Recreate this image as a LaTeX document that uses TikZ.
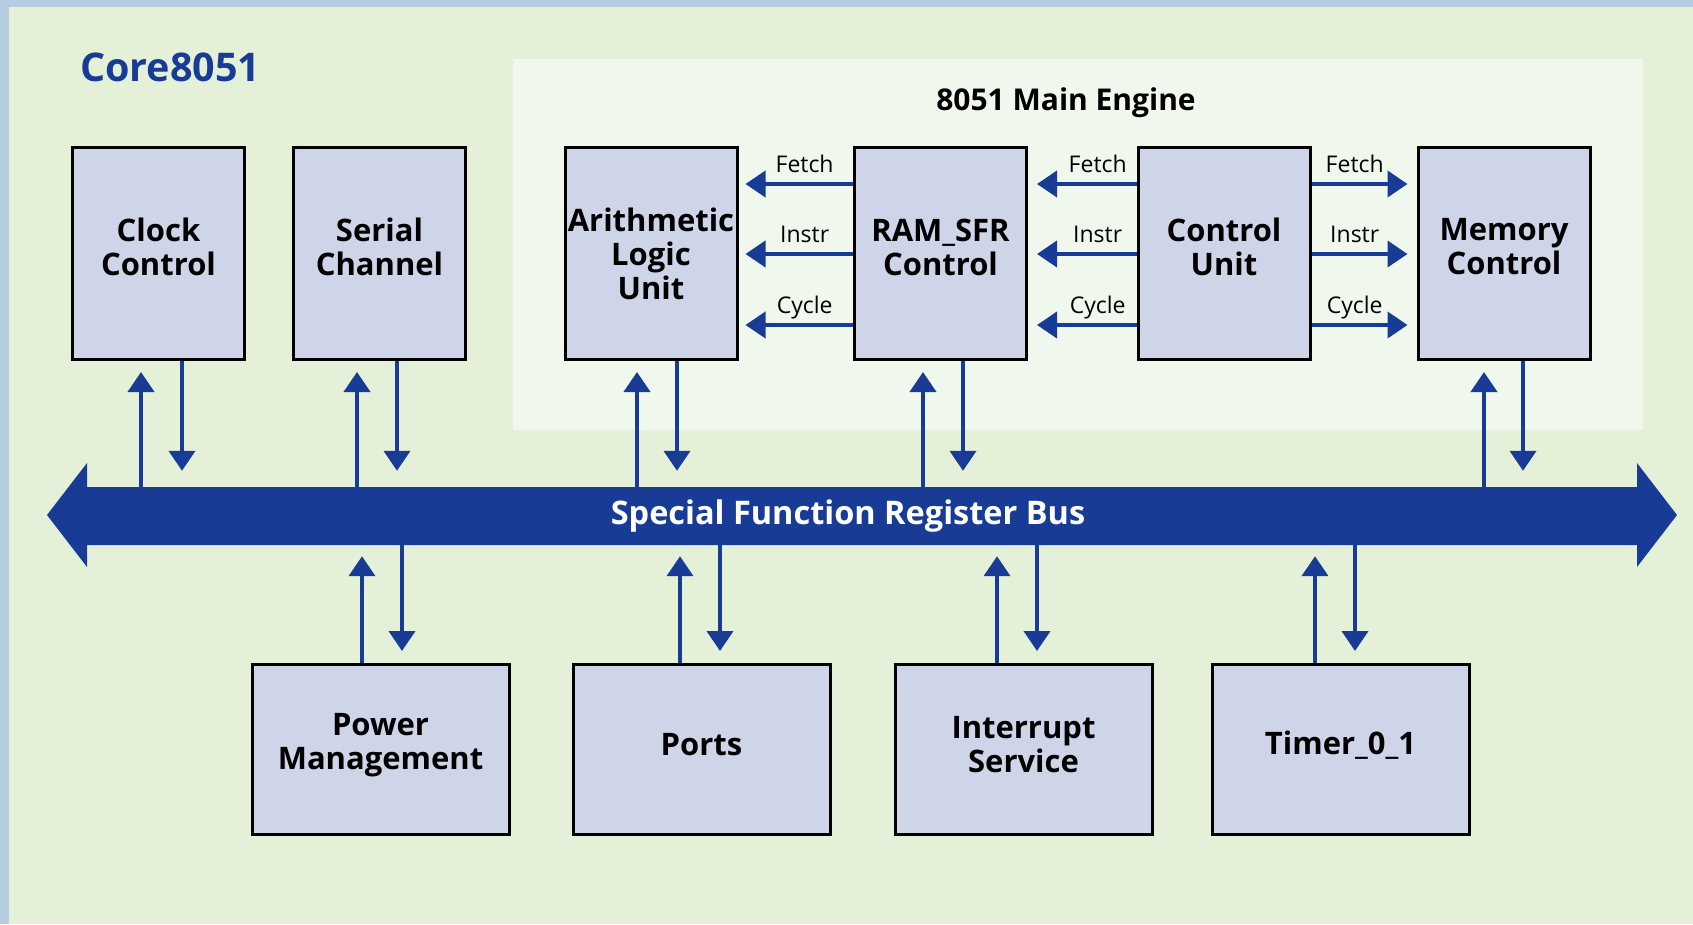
\documentclass[tikz,border=0pt]{standalone}
\usepackage{fontspec}
\setmainfont{Open Sans}
\usetikzlibrary{arrows.meta,calc}
\definecolor{frame}{HTML}{B6CCE0}
\definecolor{bg}{HTML}{E4F1D8}
\definecolor{panel}{HTML}{F0F7EC}
\definecolor{boxfill}{HTML}{CFD5E8}
\definecolor{busblue}{HTML}{183C96}
\tikzset{
  box/.style={draw=black, line width=3pt, fill=boxfill, inner sep=0pt},
  boxtext/.style={align=center, inner sep=0pt, font=\bfseries\fontsize{31}{34}\selectfont},
  topbox/.style={box, minimum width=172pt, minimum height=212pt},
  botbox/.style={box, minimum width=257pt, minimum height=170pt},
  arr/.style={busblue, line width=4pt, -{Triangle[length=20pt,width=26pt]}},
  lbl/.style={font=\fontsize{23}{23}\selectfont, text=black, inner sep=0pt, anchor=base},
}
\begin{document}
\begin{tikzpicture}[x=1pt,y=-1pt]
\useasboundingbox (0,0) rectangle (1693,924);
\fill[frame] (0,0) rectangle (1693,924);
\fill[bg] (9,7) rectangle (1693,924);
\fill[panel] (513,59) rectangle (1643,430);

\node[font=\bfseries\fontsize{39.5}{39.5}\selectfont, text=busblue, anchor=base west, inner sep=0pt] (title) at (80,81) {Core8051};
\node[font=\bfseries\fontsize{30}{30}\selectfont, anchor=base, inner sep=0pt] (eng) at (1066,110) {8051 Main Engine};

% top boxes
\node[topbox] (clock) at (158.5,253.5) {};
\node[topbox] (serial) at (379.5,253.5) {};
\node[topbox] (alu) at (651,253.5) {};
\node[topbox] (ram) at (940.5,253.5) {};
\node[topbox] (cu) at (1224,253.5) {};
\node[topbox] (mem) at (1504,253.5) {};
\node[boxtext] (clockt) at ($(clock)+(0,-6.5)$) {Clock\\Control};
\node[boxtext] (serialt) at ($(serial)+(0,-6.5)$) {Serial\\Channel};
\node[boxtext] (alut) at ($(alu)+(0,0)$) {Arithmetic\\Logic\\Unit};
\node[boxtext] (ramt) at ($(ram)+(0,-6.5)$) {RAM\_SFR\\Control};
\node[boxtext] (cut) at ($(cu)+(0,-6.5)$) {Control\\Unit};
\node[boxtext] (memt) at ($(mem)+(0,-6.5)$) {Memory\\Control};

% bottom boxes
\node[botbox] (pm) at (380.5,749.5) {};
\node[botbox] (ports) at (701.5,749.5) {};
\node[botbox] (irq) at (1023.5,749.5) {};
\node[botbox] (tmr) at (1340.5,749.5) {};
\node[boxtext] (pmt) at ($(pm)+(0,-4)$) {Power\\Management};
\node[boxtext] (portst) at ($(ports)+(0,-5)$) {Ports};
\node[boxtext] (irqt) at ($(irq)+(0,-5)$) {Interrupt\\Service};
\node[boxtext] (tmrt) at ($(tmr)+(0,-4)$) {Timer\_0\_1};

% bus
\fill[busblue] (47,515) -- (87,463) -- (87,487) -- (1637,487) -- (1637,463) -- (1677,515)
  -- (1637,567) -- (1637,545) -- (87,545) -- (87,567) -- cycle;
\node[minimum height=58pt, minimum width=10pt, inner sep=0pt, text=white,
  font=\bfseries\fontsize{32.5}{32.5}\selectfont] (bus) at (848,516) {Special Function Register Bus};

% vertical links, top row
\foreach \n/\u/\d in {clock/141/182, serial/357/397, alu/637/677, ram/923/963, mem/1484/1523}{
  \coordinate (u) at (\u,0);
  \coordinate (d) at (\d,0);
  \draw[arr] (u |- bus.north) -- ($(u |- \n.south)+(0,11)$);
  \draw[arr] (d |- \n.south) -- ($(d |- bus.north)+(0,-16)$);
}
% vertical links, bottom row
\foreach \n/\u/\d in {pm/362/402, ports/680/720, irq/997/1037, tmr/1315/1355}{
  \coordinate (u) at (\u,0);
  \coordinate (d) at (\d,0);
  \draw[arr] (u |- \n.north) -- ($(u |- bus.south)+(0,11)$);
  \draw[arr] (d |- bus.south) -- ($(d |- \n.north)+(0,-12)$);
}

% horizontal links
\foreach \y/\t in {184/Fetch, 254/Instr, 325/Cycle}{
  \coordinate (h) at (0,\y);
  \draw[arr] (h -| ram.west) -- ($(h -| alu.east)+(7,0)$) node[lbl, pos=0.45, yshift=12pt] {\t};
  \draw[arr] (h -| cu.west) -- ($(h -| ram.east)+(9,0)$) node[lbl, pos=0.39, yshift=12pt] {\t};
  \draw[arr] (h -| cu.east) -- ($(h -| mem.west)+(-9,0)$) node[lbl, pos=0.45, yshift=12pt] {\t};
}
\end{tikzpicture}
\end{document}
